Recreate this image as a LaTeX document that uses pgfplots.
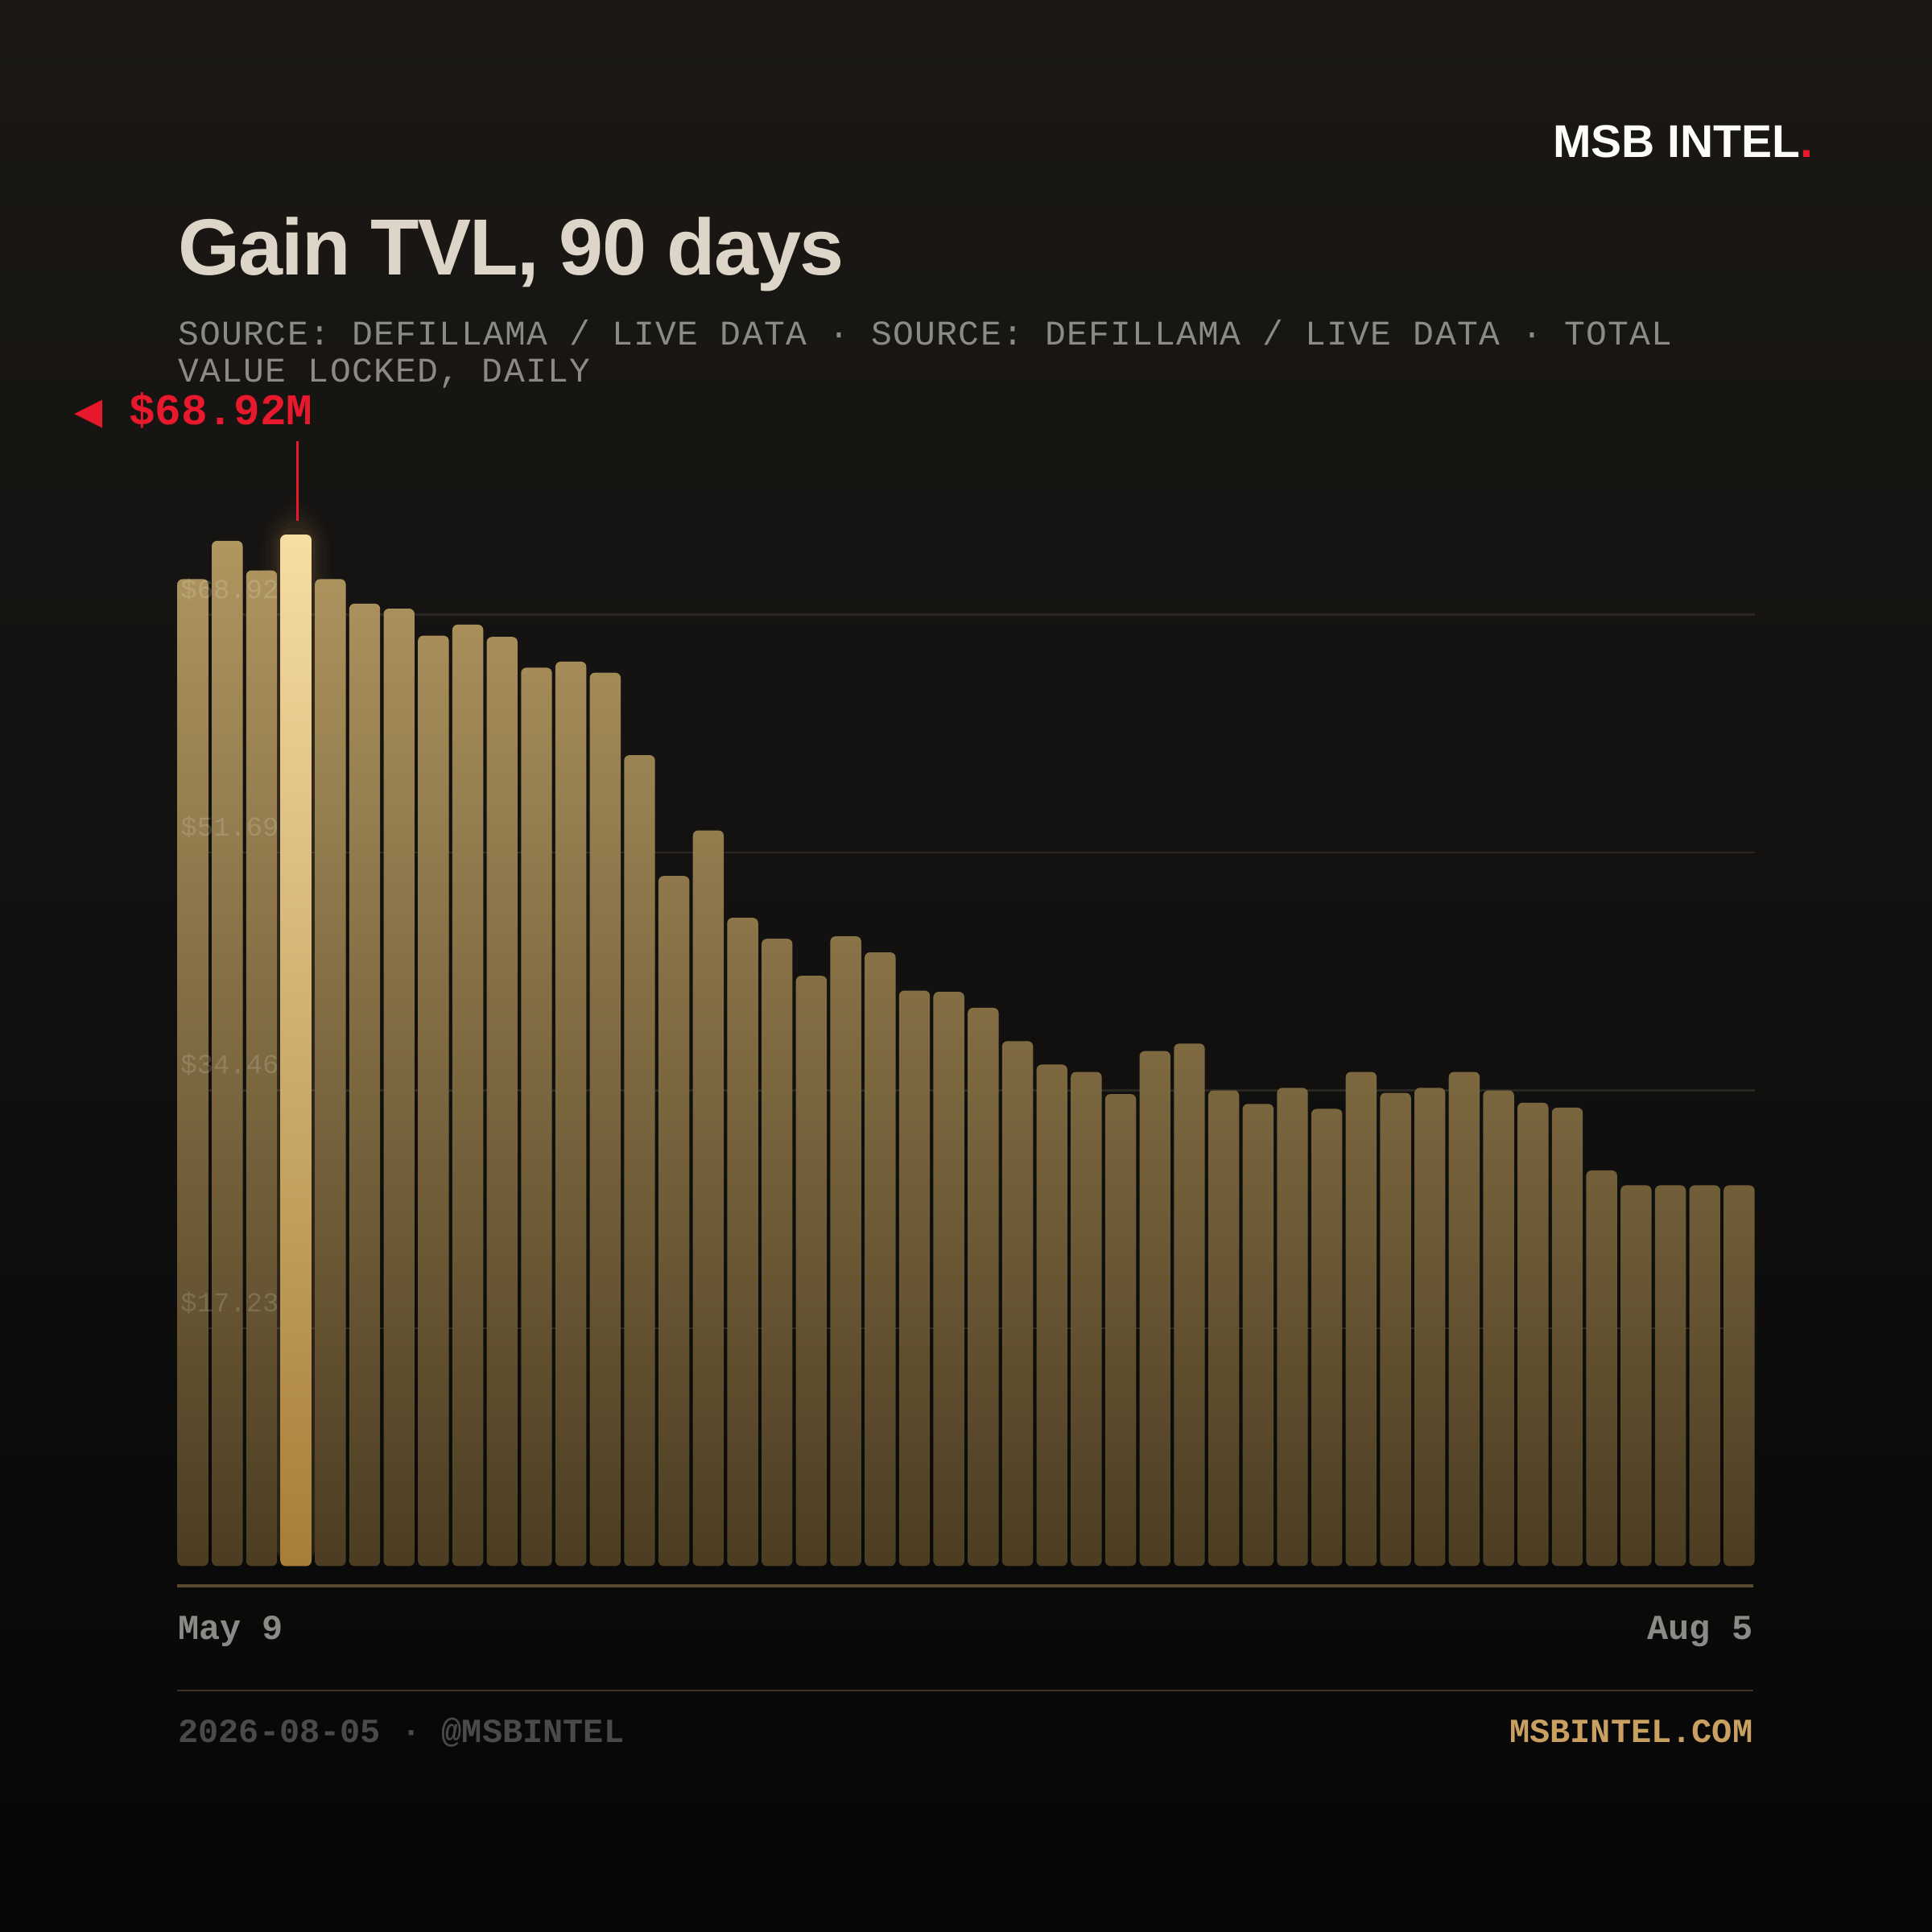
\documentclass[border=0pt]{standalone}
\usepackage{pgfplots}
\pgfplotsset{compat=1.18}
\usepackage{fontspec}
\setmainfont{Liberation Sans}
\setmonofont{Liberation Mono}
\newfontfamily\titlefont[LetterSpace=-2]{Liberation Sans}
\newfontfamily\subfont[LetterSpace=3.1]{Liberation Mono}
\newfontfamily\symfont{DejaVu Sans}

\definecolor{bgtop}{HTML}{1B1814}
\definecolor{bgmid}{HTML}{121110}
\definecolor{bgbot}{HTML}{060606}
\definecolor{bartop}{HTML}{B09660}
\definecolor{barbot}{HTML}{4C3D22}
\definecolor{hitop}{HTML}{F6DDA2}
\definecolor{hibot}{HTML}{A67E36}
\definecolor{gridc}{HTML}{2A2621}
\definecolor{titlec}{HTML}{DDD6C8}
\definecolor{subc}{HTML}{8C8A84}
\definecolor{redc}{HTML}{E8192C}
\definecolor{datec}{HTML}{8A8A86}
\definecolor{footc}{HTML}{4A4A48}
\definecolor{goldc}{HTML}{C9A062}
\definecolor{line1}{HTML}{5A4A2E}
\definecolor{line2}{HTML}{3A3024}

% daily TVL (axis units)
\pgfplotstableread{
x y
0 71.50
1 74.27
2 72.13
3 74.72
4 71.50
5 69.72
6 69.36
7 67.40
8 68.20
9 67.31
10 65.08
11 65.52
12 64.72
13 58.74
14 49.99
15 53.29
16 46.96
17 45.44
18 42.76
19 45.62
20 44.46
21 41.69
22 41.60
23 40.44
24 38.03
25 36.33
26 35.80
27 34.19
28 37.31
29 37.85
30 34.46
31 33.48
32 34.64
33 33.12
34 35.80
35 34.28
36 34.64
37 35.80
38 34.46
39 33.57
40 33.21
41 28.66
42 27.58
43 27.58
44 27.58
45 27.58
}\tvl

\begin{document}
\begin{tikzpicture}
\shade[top color=bgtop, bottom color=bgbot, middle color=bgmid] (0,0) rectangle (15.68cm,15.68cm);

\begin{axis}[
    at={(1.44cm,2.97cm)}, anchor=south west,
    scale only axis, width=12.8cm, height=8.962cm,
    xmin=-0.45, xmax=45.45, ymin=0, ymax=80,
    axis line style={draw=none},
    xtick=\empty,
    ytick={17.23,34.46,51.69,68.92},
    yticklabels={},
    major tick length=0pt,
    ymajorgrids,
    grid style={color=gridc, line width=0.5pt},
    clip=false,
]
% soft glow round the highlighted day
\addplot[ybar, bar width=2.0, bar shift=0pt, draw=none, fill=goldc, opacity=0.022, rounded corners=12pt] coordinates {(3,77.4)};
\addplot[ybar, bar width=1.75, bar shift=0pt, draw=none, fill=goldc, opacity=0.028, rounded corners=10pt] coordinates {(3,76.8)};
\addplot[ybar, bar width=1.5, bar shift=0pt, draw=none, fill=goldc, opacity=0.035, rounded corners=8pt] coordinates {(3,76.2)};
\addplot[ybar, bar width=1.3, bar shift=0pt, draw=none, fill=goldc, opacity=0.045, rounded corners=6pt] coordinates {(3,75.7)};
\addplot[ybar, bar width=1.12, bar shift=0pt, draw=none, fill=goldc, opacity=0.055, rounded corners=4pt] coordinates {(3,75.2)};
\addplot[ybar, bar width=0.9, bar shift=0pt, draw=none, rounded corners=1.2pt,
    top color=bartop, bottom color=barbot] table[x=x, y=y] {\tvl};
\addplot[ybar, bar width=0.9, bar shift=0pt, draw=none, rounded corners=1.2pt,
    top color=hitop, bottom color=hibot] coordinates {(3,74.72)};
\end{axis}

\begin{scope}[x=0.01cm, y=-0.01cm, yshift=15.68cm]
  % grid labels
  \foreach \v/\yy in {68.92/486, 51.69/679, 34.46/872, 17.23/1065}
    \node[anchor=base west, inner sep=0, text=white, opacity=0.16,
      font=\ttfamily\fontsize{6.3}{7}\selectfont] at (146,\yy) {\$\v};
  % header
  \node[anchor=base east, inner sep=0, text=white!95!titlec,
    font=\bfseries\fontsize{10.6}{12}\selectfont] at (1473,128) {MSB INTEL\textcolor{redc}{.}};
  \node[anchor=base west, inner sep=0, text=titlec,
    font=\titlefont\bfseries\fontsize{18.4}{20}\selectfont] at (144,223) {Gain TVL, 90 days};
  \node[anchor=base west, inner sep=0, text=subc,
    font=\subfont\fontsize{8}{8.5}\selectfont] at (144,280) {SOURCE: DEFILLAMA / LIVE DATA · SOURCE: DEFILLAMA / LIVE DATA · TOTAL};
  \node[anchor=base west, inner sep=0, text=subc,
    font=\subfont\fontsize{8}{8.5}\selectfont] at (144,310) {VALUE LOCKED, DAILY};
  % peak callout
  \node[anchor=base west, inner sep=0, text=redc,
    font=\symfont\fontsize{8.5}{9}\selectfont] at (60,344) {◀};
  \node[anchor=base west, inner sep=0, text=redc,
    font=\ttfamily\bfseries\fontsize{10.1}{11}\selectfont] at (104,345) {\$68.92M};
  \draw[redc, line width=0.6pt] (241.5,358) -- (241.5,423);
  % x axis and footer
  \draw[line1, line width=0.75pt] (144,1288) -- (1424,1288);
  \node[anchor=base west, inner sep=0, text=datec,
    font=\ttfamily\bfseries\fontsize{8.1}{9}\selectfont] at (144,1331) {May 9};
  \node[anchor=base east, inner sep=0, text=datec,
    font=\ttfamily\bfseries\fontsize{8.1}{9}\selectfont] at (1424,1331) {Aug 5};
  \draw[line2, line width=0.4pt] (144,1373) -- (1424,1373);
  \node[anchor=base west, inner sep=0, text=footc,
    font=\ttfamily\bfseries\fontsize{7.8}{9}\selectfont] at (144,1415) {2026-08-05 · @MSBINTEL};
  \node[anchor=base east, inner sep=0, text=goldc,
    font=\ttfamily\bfseries\fontsize{7.8}{9}\selectfont] at (1424,1415) {MSBINTEL.COM};
\end{scope}
\end{tikzpicture}
\end{document}
